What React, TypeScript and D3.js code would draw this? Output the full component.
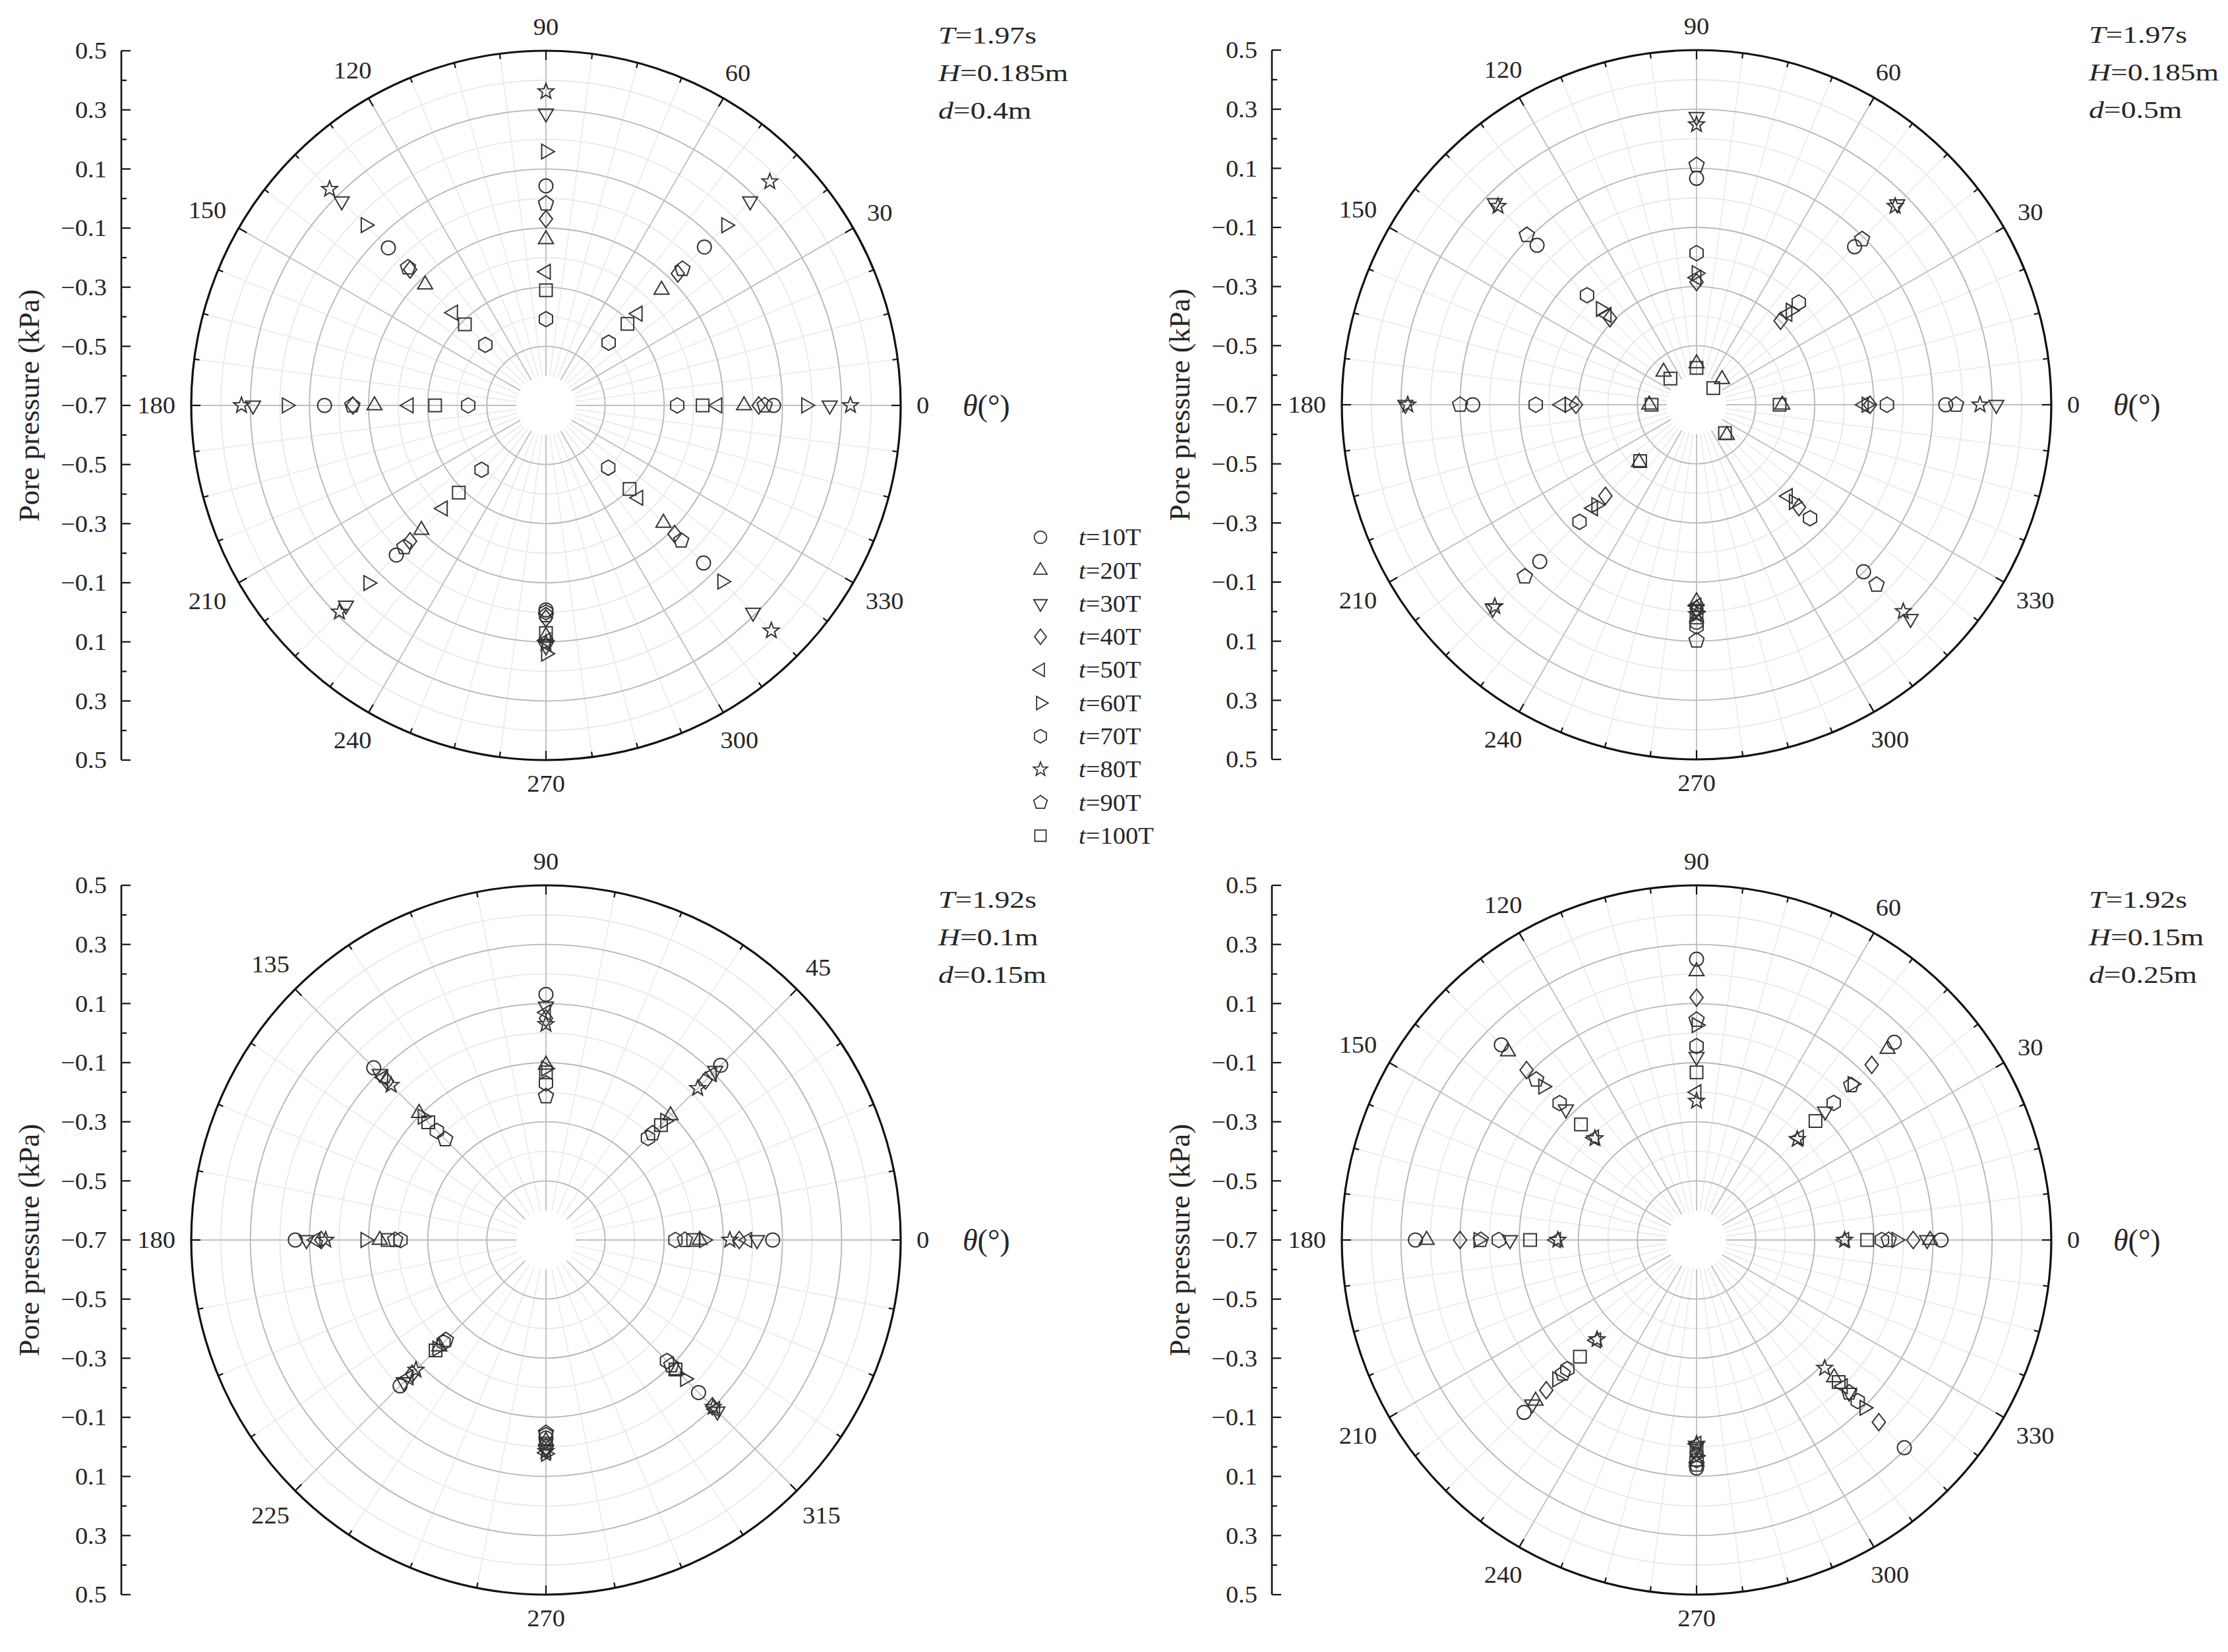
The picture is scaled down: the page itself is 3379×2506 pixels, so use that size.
import React from "react";
import * as d3 from "d3";

// ---------- data ----------
const ANGLES = [0, 45, 90, 135, 180, 225, 270, 315];
const SERIES = ["10T", "20T", "30T", "40T", "50T", "60T", "70T", "80T", "90T", "100T"];
const SHAPES = ["circle", "triUp", "triDown", "diamond", "triLeft", "triRight", "hexagon", "star", "pentagon", "square"];

// values [series][angle] in kPa, angles as in ANGLES
const panelA = [
  [0.07, 0.058, 0.043, 0.054, 0.049, 0.016, -0.008, 0.054],
  [-0.03, -0.147, -0.138, -0.122, -0.12, -0.104, 0.08, -0.138],
  [0.26, 0.277, 0.288, 0.277, 0.291, 0.257, 0.115, 0.291],
  [0.02, -0.069, -0.069, -0.05, -0.047, -0.05, 0.02, -0.085],
  [-0.12, -0.261, -0.248, -0.256, -0.236, -0.207, 0.095, -0.258],
  [0.18, 0.162, 0.159, 0.163, 0.177, 0.15, 0.14, 0.143],
  [-0.256, -0.4, -0.408, -0.41, -0.437, -0.392, 0.0, -0.402],
  [0.33, 0.371, 0.362, 0.335, 0.33, 0.288, 0.105, 0.378],
  [0.04, -0.047, -0.017, -0.04, -0.045, -0.022, 0.01, -0.053],
  [-0.17, -0.31, -0.31, -0.312, -0.325, -0.283, 0.07, -0.3],
];
const panelB = [
  [0.143, 0.056, 0.066, 0.063, 0.057, 0.05, 0.036, 0.099],
  [-0.41, -0.578, -0.56, -0.542, -0.54, -0.425, -0.035, -0.555],
  [0.314, 0.26, 0.274, 0.265, 0.285, 0.275, -0.009, 0.324],
  [-0.113, -0.298, -0.285, -0.286, -0.292, -0.264, -0.01, -0.21],
  [-0.134, -0.265, -0.27, -0.27, -0.242, -0.205, -0.02, -0.263],
  [-0.125, -0.25, -0.255, -0.242, -0.27, -0.22, 0.0, -0.235],
  [-0.056, -0.211, -0.187, -0.176, -0.156, -0.14, 0.05, -0.157],
  [0.259, 0.25, 0.248, 0.25, 0.277, 0.265, 0.009, 0.289],
  [0.178, 0.092, 0.111, 0.112, 0.1, 0.122, 0.098, 0.161],
  [-0.419, -0.62, -0.575, -0.575, -0.548, -0.43, 0.02, -0.564],
];
const panelC = [
  [0.067, 0.136, 0.131, 0.124, 0.148, -0.002, -0.03, 0.03],
  [-0.18, -0.104, -0.107, -0.093, -0.138, -0.19, -0.02, -0.076],
  [0.014, 0.11, 0.09, 0.095, 0.11, -0.02, 0.01, 0.12],
  [-0.046, 0.063, 0.05, 0.06, 0.06, -0.06, 0.0, 0.096],
  [-0.019, 0.094, 0.07, 0.078, 0.079, -0.043, 0.02, 0.11],
  [-0.165, -0.13, -0.12, -0.11, -0.089, -0.18, 0.023, -0.035],
  [-0.262, -0.212, -0.17, -0.178, -0.208, -0.21, -0.04, -0.121],
  [-0.078, 0.026, 0.03, 0.041, 0.045, -0.078, 0.015, 0.1],
  [-0.23, -0.19, -0.214, -0.218, -0.19, -0.221, -0.047, -0.1],
  [-0.202, -0.15, -0.133, -0.137, -0.165, -0.172, -0.011, -0.08],
];
const panelD = [
  [0.127, 0.246, 0.25, 0.234, 0.251, 0.125, 0.072, 0.294],
  [0.09, 0.214, 0.209, 0.202, 0.213, 0.07, 0.05, -0.042],
  [0.08, -0.085, -0.08, -0.075, -0.069, 0.086, 0.0, 0.03],
  [0.033, 0.138, 0.12, 0.113, 0.1, 0.019, 0.02, 0.172],
  [-0.2, -0.21, -0.2, -0.21, -0.225, -0.22, -0.01, 0.0],
  [-0.024, 0.046, 0.027, 0.034, 0.038, -0.033, 0.03, 0.103],
  [-0.073, -0.044, -0.044, -0.045, -0.031, -0.082, 0.045, 0.071],
  [-0.199, -0.218, -0.23, -0.214, -0.231, -0.224, -0.01, -0.087],
  [-0.05, 0.04, 0.045, 0.067, 0.03, -0.06, 0.06, 0.03],
  [-0.123, -0.131, -0.133, -0.147, -0.137, -0.142, 0.012, -0.02],
];
const PANEL_VALUES = [panelA, panelB, panelC, panelD];
const T_LABELS = ["1.97s", "1.97s", "1.92s", "1.92s"];
const H_LABELS = ["0.185m", "0.185m", "0.1m", "0.15m"];
const D_LABELS = ["0.4m", "0.5m", "0.15m", "0.25m"];
const ANGLE_STEPS = [30, 30, 45, 30];
const RADIAL_DOMAIN = [-0.7, 0.5];
const AXIS_TICKS = [0.5, 0.4, 0.3, 0.2, 0.1, 0.0, -0.1, -0.2, -0.3, -0.4, -0.5, -0.6, -0.7];
const MAJOR_RINGS = [-0.5, -0.3, -0.1, 0.1, 0.3];
const MINOR_RINGS = [-0.4, -0.2, 0.0, 0.2, 0.4];

// ---------- layout ----------
const W = 3379, H = 2506;
const CENTERS = [[828, 615], [2573, 614], [828, 1881], [2573, 1881]];
const ANNOT_DY = [0, 0, 45, 45];
const R = 538;
const FONT = "'Liberation Serif', 'Times New Roman', serif";
const FS = 35;
const SX = 1.1;
const INK = "#262626";

const rScale = d3.scaleLinear().domain(RADIAL_DOMAIN).range([0, R]);
const HOLE = rScale(-0.6);

function poly(n: number, r: number, rot: number) {
  const pts = d3.range(n).map((i) => {
    const a = rot + (i * 2 * Math.PI) / n;
    return [r * Math.sin(a), -r * Math.cos(a)];
  });
  return "M" + pts.map((p) => p[0].toFixed(2) + "," + p[1].toFixed(2)).join("L") + "Z";
}
function starPath(ro: number, ri: number) {
  const pts = d3.range(10).map((i) => {
    const a = (i * Math.PI) / 5;
    const r = i % 2 === 0 ? ro : ri;
    return [r * Math.sin(a), -r * Math.cos(a)];
  });
  return "M" + pts.map((p) => p[0].toFixed(2) + "," + p[1].toFixed(2)).join("L") + "Z";
}
function shapePath(s: string) {
  switch (s) {
    case "circle": return d3.arc()({ innerRadius: 0, outerRadius: 10.5, startAngle: 0, endAngle: 2 * Math.PI }) as string;
    case "triUp": return poly(3, 13, 0);
    case "triDown": return poly(3, 13, Math.PI);
    case "triLeft": return poly(3, 13, -Math.PI / 2);
    case "triRight": return poly(3, 13, Math.PI / 2);
    case "diamond": return "M0,-13L10,0L0,13L-10,0Z";
    case "square": return "M-9.5,-9.5L9.5,-9.5L9.5,9.5L-9.5,9.5Z";
    case "hexagon": return poly(6, 11.5, 0);
    case "pentagon": return poly(5, 12, 0);
    case "star": return starPath(12.5, 5.2);
  }
  return "";
}

const fmt = (v: number) => (v < 0 ? "\u2212" : "") + Math.abs(v).toFixed(1);

function Txt({ x, y, size = FS, sx = SX, anchor = "start", children, dy = "0" }: any) {
  return (
    <text transform={`translate(${x},${y}) scale(${sx},1)`} dy={dy} textAnchor={anchor}
      fontFamily={FONT} fontSize={size} fill={INK}>{children}</text>
  );
}

function Panel({ idx }: { idx: number }) {
  const [cx, cy] = CENTERS[idx];
  const step = ANGLE_STEPS[idx];
  const minorStep = step / 4;
  const minorAngles = d3.range(0, 360, minorStep).filter((a) => Math.abs(a % step) > 1e-6);
  const majorAngles = d3.range(0, 360, step);
  const rad = (a: number) => (a * Math.PI) / 180;
  const axisX = cx - 644;
  const values = PANEL_VALUES[idx];
  const ay = cy + ANNOT_DY[idx];

  return (
    <g>
      {MINOR_RINGS.map((v) => (
        <circle key={"mr" + v} cx={cx} cy={cy} r={rScale(v)} fill="none" stroke="#e6e6e6" strokeWidth={1.6} />
      ))}
      {minorAngles.map((a) => (
        <line key={"ms" + a} x1={cx + HOLE * Math.cos(rad(a))} y1={cy - HOLE * Math.sin(rad(a))}
          x2={cx + R * Math.cos(rad(a))} y2={cy - R * Math.sin(rad(a))} stroke="#eaeaea" strokeWidth={1.6} />
      ))}
      {MAJOR_RINGS.map((v) => (
        <circle key={"Mr" + v} cx={cx} cy={cy} r={rScale(v)} fill="none" stroke="#b8b8b8" strokeWidth={1.9} />
      ))}
      {majorAngles.map((a) => (
        <line key={"Ms" + a} x1={cx + HOLE * Math.cos(rad(a))} y1={cy - HOLE * Math.sin(rad(a))}
          x2={cx + R * Math.cos(rad(a))} y2={cy - R * Math.sin(rad(a))} stroke="#c0c0c0" strokeWidth={1.9} />
      ))}
      <circle cx={cx} cy={cy} r={R} fill="none" stroke="#111" strokeWidth={3.2} />
      {d3.range(0, 360, minorStep).map((a) => {
        const major = Math.abs(a % step) < 1e-6;
        const len = major ? 14 : 8;
        return (
          <line key={"t" + a} x1={cx + R * Math.cos(rad(a))} y1={cy - R * Math.sin(rad(a))}
            x2={cx + (R - len) * Math.cos(rad(a))} y2={cy - (R - len) * Math.sin(rad(a))}
            stroke="#111" strokeWidth={2.2} />
        );
      })}
      {majorAngles.map((a) => {
        const label = String(a);
        const w = label.length * 0.5 * FS * SX;
        const h = 0.68 * FS;
        const c = Math.cos(rad(a)), s = Math.sin(rad(a));
        const half = (Math.abs(c) * w) / 2 + (Math.abs(s) * h) / 2;
        const rr = R + 24 + half;
        return (
          <Txt key={"al" + a} x={cx + rr * c} y={cy - rr * s} dy="0.35em" anchor="middle">{label}</Txt>
        );
      })}
      <Txt x={cx + 632} y={cy} dy="0.35em" size={46} sx={1}>
        <tspan fontStyle="italic">θ</tspan>(°)
      </Txt>
      <line x1={axisX} y1={cy - R} x2={axisX} y2={cy + R} stroke="#111" strokeWidth={2.6} />
      {[-1, 1].map((sgn) =>
        AXIS_TICKS.map((v) => {
          const y = cy + sgn * rScale(v);
          const major = Math.round(v * 10) % 2 !== 0;
          if (sgn === 1 && Math.abs(v + 0.7) < 1e-6) return null;
          return (
            <g key={"yt" + sgn + v}>
              <line x1={axisX} y1={y} x2={axisX + (major ? 14 : 8)} y2={y} stroke="#111" strokeWidth={2.2} />
              {major && (
                <Txt x={axisX - 22} y={y} dy="0.35em" anchor="end">{fmt(v)}</Txt>
              )}
            </g>
          );
        })
      )}
      <text transform={`translate(${cx - 785},${cy}) rotate(-90)`} dy="0.35em" textAnchor="middle"
        fontFamily={FONT} fontSize={45} fill={INK}>Pore pressure (kPa)</text>
      <Txt x={cx + 595} y={ay - 549} size={36} sx={1.27}>
        <tspan fontStyle="italic">T</tspan>={T_LABELS[idx]}
      </Txt>
      <Txt x={cx + 595} y={ay - 492} size={36} sx={1.27}>
        <tspan fontStyle="italic">H</tspan>={H_LABELS[idx]}
      </Txt>
      <Txt x={cx + 595} y={ay - 435} size={36} sx={1.27}>
        <tspan fontStyle="italic">d</tspan>={D_LABELS[idx]}
      </Txt>
      {values.map((row, si) =>
        row.map((v, ai) => {
          const a = rad(ANGLES[ai]);
          const r = rScale(v);
          return (
            <path key={"p" + si + "_" + ai} d={shapePath(SHAPES[si])}
              transform={`translate(${cx + r * Math.cos(a)},${cy - r * Math.sin(a)})`}
              fill="none" stroke="#333" strokeWidth={2} />
          );
        })
      )}
    </g>
  );
}

function Legend() {
  const x0 = 1578, y0 = 815, dy = 50.3;
  return (
    <g>
      {SERIES.map((s, i) => (
        <g key={s}>
          <path d={shapePath(SHAPES[i])} transform={`translate(${x0},${y0 + i * dy}) scale(0.9)`}
            fill="none" stroke="#333" strokeWidth={2} />
          <Txt x={x0 + 58} y={y0 + i * dy} dy="0.35em" size={35} sx={1.1}>
            <tspan fontStyle="italic">t</tspan>={s}
          </Txt>
        </g>
      ))}
    </g>
  );
}

export default function App() {
  return (
    <svg width={W} height={H} viewBox={`0 0 ${W} ${H}`} style={{ position: "absolute", left: 0, top: 0, background: "#fff" }}>
      <rect x={0} y={0} width={W} height={H} fill="#fff" />
      {[0, 1, 2, 3].map((i) => (
        <Panel key={i} idx={i} />
      ))}
      <Legend />
    </svg>
  );
}
